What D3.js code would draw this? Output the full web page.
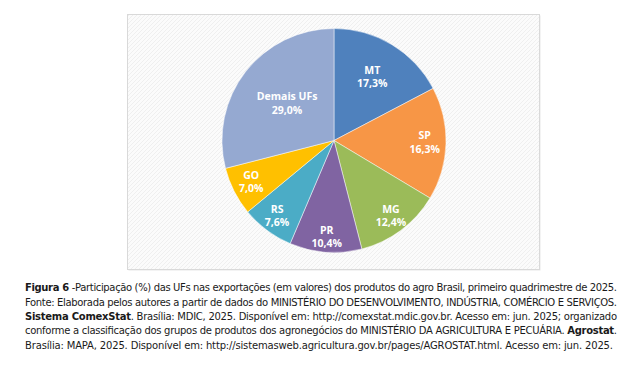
<!DOCTYPE html>
<html><head><meta charset="utf-8">
<script src="https://cdn.jsdelivr.net/npm/d3@7"></script>
<style>
html,body{margin:0;padding:0;background:#fff;}
svg{display:block;}
</style></head>
<body>
<svg id="chart" width="630" height="368"></svg>
<script>
const categories = ["MT", "SP", "MG", "PR", "RS", "GO", "Demais UFs"];
const values = [17.3, 16.3, 12.4, 10.4, 7.6, 7.0, 29.0];
const colors = ["#4f81bd", "#f79646", "#9bbb59", "#8064a2", "#4bacc6", "#ffc000", "#95a9d1"];
const labelRadiusFrac = [0.66, 0.81, 0.85, 0.87, 0.85, 0.83, 0.53];

const captionLines = [
  [["Figura 6 ", true], ["-Participação (%) das UFs nas exportações (em valores) dos produtos do agro Brasil, primeiro quadrimestre de 2025.", false]],
  [["Fonte: Elaborada pelos autores a partir de dados do MINISTÉRIO DO DESENVOLVIMENTO, INDÚSTRIA, COMÉRCIO E SERVIÇOS.", false]],
  [["Sistema ComexStat", true], [". Brasília: MDIC, 2025. Disponível em: http://comexstat.mdic.gov.br. Acesso em: jun. 2025; organizado", false]],
  [["conforme a classificação dos grupos de produtos dos agronegócios do MINISTÉRIO DA AGRICULTURA E PECUÁRIA. ", false], ["Agrostat", true], [".", false]],
  [["Brasília: MAPA, 2025. Disponível em: http://sistemasweb.agricultura.gov.br/pages/AGROSTAT.html. Acesso em: jun. 2025.", false]]
];

const svg = d3.select("#chart");
const defs = svg.append("defs");
const pat = defs.append("pattern").attr("id","hatch").attr("patternUnits","userSpaceOnUse")
  .attr("width",4).attr("height",4);
pat.append("rect").attr("width",4).attr("height",4).attr("fill","#fbfbfb");
pat.append("path").attr("d","M-1,1 l2,-2 M0,4 l4,-4 M3,5 l2,-2").attr("stroke","#efefef").attr("stroke-width",1);

// frame
svg.append("rect").attr("x",128.5).attr("y",15.5).attr("width",412).attr("height",255)
  .attr("fill","#e8e8e8");
svg.append("rect").attr("x",127.5).attr("y",14.5).attr("width",412).attr("height",255)
  .attr("fill","url(#hatch)").attr("stroke","#d9d9d9").attr("stroke-width",1);

const cx = 334, cy = 140.5, r = 112;
const data = categories.map((c,i)=>({cat:c, val:values[i], color:colors[i], lf:labelRadiusFrac[i]}));
const pie = d3.pie().value(d=>d.val).sort(null);
const arc = d3.arc().innerRadius(0).outerRadius(r);
const g = svg.append("g").attr("transform",`translate(${cx},${cy})`);
const arcs = pie(data);
g.selectAll("path").data(arcs).join("path")
  .attr("d",arc).attr("fill",d=>d.data.color)
  .attr("stroke","#ffffff").attr("stroke-opacity",0.6).attr("stroke-width",0.8);

const fmt = v => v.toFixed(1).replace(".", ",") + "%";
const lab = g.selectAll("text.lab").data(arcs).join("text").attr("class","lab")
  .attr("transform", d => {
    const la = d3.arc().innerRadius(r*d.data.lf).outerRadius(r*d.data.lf);
    const [x,y] = la.centroid(d);
    return `translate(${x},${y})`;
  })
  .attr("text-anchor","middle")
  .attr("font-family","'Open Sans', 'Liberation Sans', sans-serif")
  .attr("font-weight","bold").attr("font-size",10.5).attr("fill","#ffffff");
lab.append("tspan").attr("x",0).attr("dy","-0.35em").text(d=>d.data.cat);
lab.append("tspan").attr("x",0).attr("dy","1.25em").text(d=>fmt(d.data.val));

// caption
const baseY = [291, 306, 320, 334, 349];
const lens = [592, 592, 592, 592, 588];
captionLines.forEach((line,i)=>{
  const t = svg.append("text").attr("x",25).attr("y",baseY[i])
    .attr("font-family","'DejaVu Sans', Verdana, sans-serif")
    .attr("font-size",10).attr("fill","#1a1a1a")
    .attr("textLength",lens[i]).attr("lengthAdjust","spacing");
  line.forEach(([s,b])=>{
    t.append("tspan").attr("font-weight", b ? "bold" : "normal").text(s);
  });
});
</script>
</body></html>
